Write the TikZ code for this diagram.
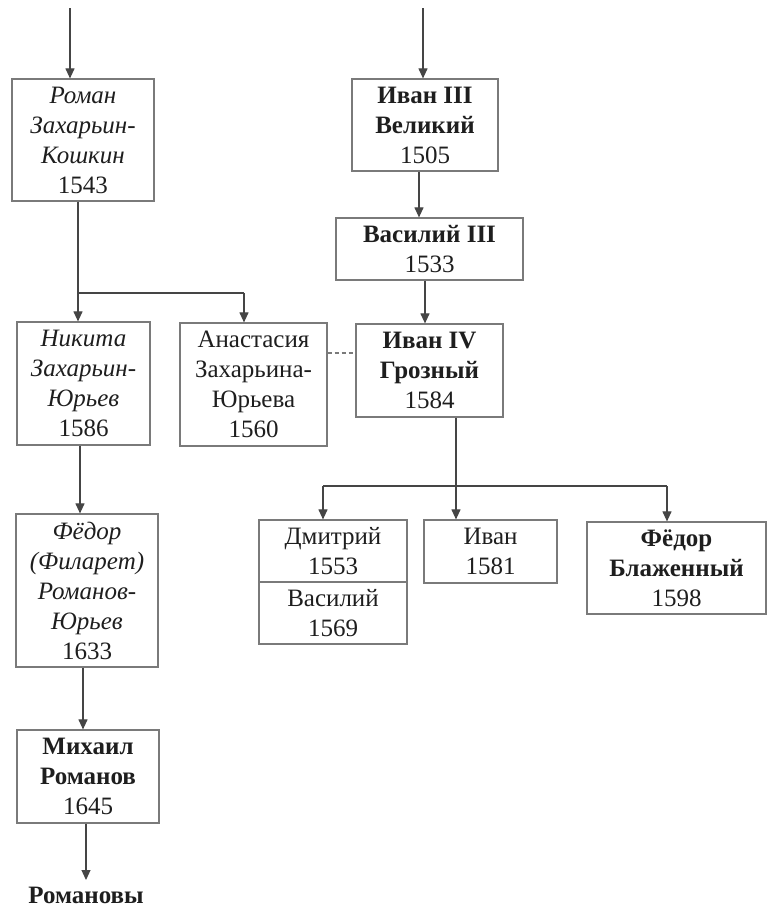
\documentclass[tikz,border=0pt]{standalone}
\usepackage{fontspec}
\setmainfont{Liberation Serif}
\usetikzlibrary{arrows.meta,calc}
\definecolor{boxline}{HTML}{7A7A7A}
\definecolor{conline}{HTML}{454545}
\definecolor{txt}{HTML}{1E1E1E}
\tikzset{
  famebox/.style={draw=boxline, line width=1.2pt, rectangle, inner sep=0pt, align=center,
    text=txt, font=\fontsize{25}{30}\selectfont},
  conn/.style={draw=conline, line width=1.1pt},
  arr/.style={conn, -{Triangle[width=9pt,length=10pt]}},
  spouse/.style={draw=boxline, line width=1.1pt, dash pattern=on 4pt off 3pt},
}
\begin{document}
\begin{tikzpicture}[x=1pt,y=1pt]
\useasboundingbox (0,0) rectangle (768,-908);
% left column
\node[famebox, minimum width=142pt, minimum height=122pt] (roman) at (83,-140)
  {\itshape Роман\\\itshape Захарьин-\\\itshape Кошкин\\1543};
\node[famebox, minimum width=133pt, minimum height=123pt] (nikita) at (83.5,-383.5)
  {\itshape Никита\\\itshape Захарьин-\\\itshape Юрьев\\1586};
\node[famebox, minimum width=147pt, minimum height=123pt] (anast) at (253.5,-384.5)
  {Анастасия\\Захарьина-\\Юрьева\\1560};
\node[famebox, minimum width=142pt, minimum height=153pt] (filaret) at (87,-590.5)
  {\itshape Фёдор\\\itshape (Филарет)\\\itshape Романов-\\\itshape Юрьев\\1633};
\node[famebox, minimum width=142pt, minimum height=93pt] (mikhail) at (88,-776.5)
  {\bfseries Михаил\\\bfseries Романов\\1645};
\node[text=txt, font=\fontsize{25}{30}\selectfont\bfseries, inner sep=0pt] (romanovy) at (86,-895) {Романовы};
% right column
\node[famebox, minimum width=146pt, minimum height=92pt] (ivan3) at (425,-125)
  {\bfseries Иван III\\\bfseries Великий\\1505};
\node[famebox, minimum width=187pt, minimum height=62pt] (vasily3) at (429.5,-249)
  {\bfseries Василий III\\1533};
\node[famebox, minimum width=147pt, minimum height=93pt] (ivan4) at (429.5,-370.5)
  {\bfseries Иван IV\\\bfseries Грозный\\1584};
% children of Ivan IV
\node[famebox, minimum width=148pt, minimum height=62pt] (dmitri) at (333,-551)
  {Дмитрий\\1553};
\node[famebox, minimum width=148pt, minimum height=62pt] (vasily) at (333,-613)
  {Василий\\1569};
\node[famebox, minimum width=133pt, minimum height=63pt] (ivan) at (490.5,-551.5)
  {Иван\\1581};
\node[famebox, minimum width=179pt, minimum height=92pt] (fyodor) at (676.5,-568)
  {\bfseries Фёдор\\\bfseries Блаженный\\1598};
% coordinates
\coordinate (t1) at (70,-8);
\coordinate (t2) at (423,-8);
\coordinate (x78) at (78,0);
\coordinate (x244) at (244,0);
\coordinate (x80) at (80,0);
\coordinate (x83) at (83,0);
\coordinate (x86) at (86,0);
\coordinate (x419) at (419,0);
\coordinate (x425) at (425,0);
\coordinate (x456) at (456,0);
\coordinate (x323) at (323,0);
\coordinate (x667) at (667,0);
\coordinate (y293) at (0,-293);
\coordinate (y486) at (0,-486);
\coordinate (y353) at (0,-353);
\coordinate (y880) at (0,-880);
% connectors
\draw[arr] (t1) -- (t1 |- roman.north);
\draw[arr] (t2) -- (t2 |- ivan3.north);
\draw[conn] (roman.south -| x78) -- (x78 |- y293) -- (x244 |- y293);
\draw[arr] (x78 |- y293) -- (x78 |- nikita.north);
\draw[arr] (x244 |- y293) -- (x244 |- anast.north);
\draw[arr] (nikita.south -| x80) -- (x80 |- filaret.north);
\draw[arr] (filaret.south -| x83) -- (x83 |- mikhail.north);
\draw[arr] (mikhail.south -| x86) -- (x86 |- y880);
\draw[arr] (ivan3.south -| x419) -- (x419 |- vasily3.north);
\draw[arr] (vasily3.south -| x425) -- (x425 |- ivan4.north);
\draw[spouse] (anast.east |- y353) -- (ivan4.west |- y353);
\draw[conn] (ivan4.south -| x456) -- (x456 |- y486);
\draw[conn] (x323 |- y486) -- (x667 |- y486);
\draw[arr] (x323 |- y486) -- (x323 |- dmitri.north);
\draw[arr] (x456 |- y486) -- (x456 |- ivan.north);
\draw[arr] (x667 |- y486) -- (x667 |- fyodor.north);
\end{tikzpicture}
\end{document}
